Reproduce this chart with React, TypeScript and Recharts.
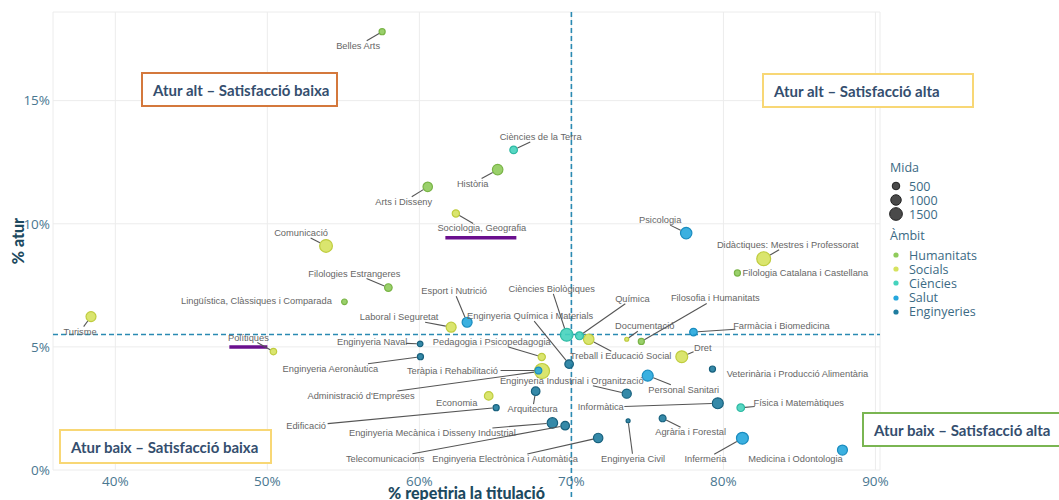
import React from 'react';
import {
  ScatterChart,
  Scatter,
  XAxis,
  YAxis,
  ZAxis,
  CartesianGrid,
  ReferenceLine,
  Legend
} from 'recharts';

// titulacions, ambit, % repetiria, % atur, mida (graduats)
const titulacions = [
  'Belles Arts', 'Ciències de la Terra', 'Història', 'Arts i Disseny', 'Sociologia, Geografia',
  'Psicologia', 'Comunicació', 'Didàctiques: Mestres i Professorat', 'Filologia Catalana i Castellana',
  'Filologies Estrangeres', 'Lingüística, Clàssiques i Comparada', 'Turisme', 'Polítiques',
  'Esport i Nutrició', 'Laboral i Seguretat', 'Ciències Biològiques', 'Química', 'Filosofia i Humanitats',
  'Enginyeria Química i Materials', 'Documentació', 'Farmàcia i Biomedicina', 'Enginyeria Naval',
  'Pedagogia i Psicopedagogia', 'Treball i Educació Social', 'Dret', 'Enginyeria Aeronàutica',
  'Teràpia i Rehabilitació', "Administració d'Empreses", 'Veterinària i Producció Alimentària',
  'Enginyeria Industrial i Organització', 'Personal Sanitari', 'Economia', 'Arquitectura', 'Informàtica',
  'Física i Matemàtiques', 'Edificació', 'Enginyeria Mecànica i Disseny Industrial', 'Agrària i Forestal',
  'Telecomunicacions', 'Enginyeria Electrònica i Automàtica', 'Enginyeria Civil', 'Infermeria',
  'Medicina i Odontologia'
];

const ambitOf = [
  'Humanitats', 'Ciències', 'Humanitats', 'Humanitats', 'Socials',
  'Salut', 'Socials', 'Socials', 'Humanitats',
  'Humanitats', 'Humanitats', 'Socials', 'Socials',
  'Salut', 'Socials', 'Ciències', 'Ciències', 'Humanitats',
  'Enginyeries', 'Socials', 'Salut', 'Enginyeries',
  'Socials', 'Socials', 'Socials', 'Enginyeries',
  'Salut', 'Socials', 'Enginyeries',
  'Enginyeries', 'Salut', 'Socials', 'Enginyeries', 'Enginyeries',
  'Ciències', 'Enginyeries', 'Enginyeries', 'Enginyeries',
  'Enginyeries', 'Enginyeries', 'Enginyeries', 'Salut',
  'Salut'
];

const satisfaccio = [
  57.55, 66.2, 65.15, 60.55, 62.4,
  77.55, 53.86, 82.65, 80.92,
  57.96, 55.07, 38.4, 50.4,
  63.14, 62.09, 69.69, 70.53, 74.6,
  69.85, 73.64, 78.03, 60.05,
  68.05, 71.14, 77.26, 60.07,
  67.83, 68.07, 79.28,
  73.64, 75.02, 64.56, 67.65, 79.63,
  81.14, 65.05, 68.75, 76.0,
  69.59, 71.76, 73.73, 81.25,
  87.83
];

const atur = [
  17.8, 13.0, 12.2, 11.5, 10.42,
  9.62, 9.1, 8.58, 8.0,
  7.41, 6.83, 6.23, 4.81,
  6.0, 5.8, 5.49, 5.45, 5.22,
  4.3, 5.31, 5.6, 5.12,
  4.59, 5.31, 4.6, 4.6,
  4.04, 4.02, 4.1,
  3.1, 3.83, 3.01, 3.2, 2.71,
  2.53, 2.53, 1.91, 2.1,
  1.8, 1.3, 2.0, 1.29,
  0.81
];

const mida = [
  300, 500, 1000, 800, 450,
  1200, 1500, 1800, 300,
  500, 250, 900, 350,
  900, 900, 1500, 550, 300,
  650, 100, 500, 250,
  450, 1000, 1300, 300,
  400, 2100, 300,
  750, 1100, 650, 650, 1100,
  500, 300, 1000, 400,
  650, 800, 100, 1300,
  900
];

// label offsets from the point in px (dx, dy) and whether a leader segment is drawn
const labelPos: [number, number, boolean][] = [
  [-24, 14, true], [27, -13, true], [-25, 14, true], [-24, 15, true], [26, 15, true],
  [-26, -13, true], [-25, -13, true], [24, -14, true], [68, 0, false],
  [-34, -14, true], [-88, -1, false], [-11, 15, true], [-25, -14, true],
  [-13, -31, true], [-52, -10, true], [-15, -46, true], [53, -37, true], [74, -43, true],
  [-39, -48, true], [18, -13, true], [88, -6, true], [-48, -2, true],
  [-50, -15, true], [32, 17, true], [21, -9, true], [-90, 12, true],
  [-86, 0, true], [-181, 25, true], [85, 5, false],
  [-55, -13, true], [36, 14, true], [-32, 7, false], [-3, 18, true], [-117, 4, true],
  [58, -5, true], [-190, 18, true], [-120, 10, true], [28, 14, true],
  [-180, 33, true], [-93, 21, true], [5, 38, true], [-37, 21, true],
  [-47, 9, false]
];

const ambits = ['Humanitats', 'Socials', 'Ciències', 'Salut', 'Enginyeries'];
const ambitFill: Record<string, string> = {
  Humanitats: '#8fcb5b',
  Socials: '#d6e25e',
  Ciències: '#45d3bd',
  Salut: '#26a7dd',
  Enginyeries: '#1f7c9f'
};
const ambitStroke: Record<string, string> = {
  Humanitats: '#79b446',
  Socials: '#bfcc3f',
  Ciències: '#2fb9a3',
  Salut: '#1a8cbf',
  Enginyeries: '#17607d'
};

const midaLegend = [500, 1000, 1500];
const xTicks = [40, 50, 60, 70, 80, 90];
const yTicks = [0, 5, 10, 15];

const rows = titulacions.map((name, idx) => ({
  name,
  idx,
  ambit: ambitOf[idx],
  x: satisfaccio[idx],
  y: atur[idx],
  n: mida[idx]
}));

const SIZE_DOMAIN: [number, number] = [0, 2200];
const SIZE_RANGE: [number, number] = [4.4, 184.8];
const radiusFor = (n: number) =>
  Math.sqrt((SIZE_RANGE[0] + (n / SIZE_DOMAIN[1]) * (SIZE_RANGE[1] - SIZE_RANGE[0])) / Math.PI);

const tickStyle = { fill: '#4a7790', fontSize: 13.5, fontFamily: 'Open Sans, sans-serif' };
const CHAR_W = 4.1;

const RepelLabel = (props: any) => {
  const { cx, cy, payload, size } = props;
  if (cx == null || cy == null) return null;
  const [dx, dy, seg] = labelPos[payload.idx];
  const lx = cx + dx;
  const ly = cy + dy;
  const hw = (payload.name.length * CHAR_W) / 2 + 1;
  const hh = 5;
  let line = null;
  if (seg) {
    const vx = cx - lx;
    const vy = cy - ly;
    const t = Math.min(vx ? hw / Math.abs(vx) : Infinity, vy ? hh / Math.abs(vy) : Infinity);
    const len = Math.hypot(vx, vy);
    const r = Math.sqrt((size || 30) / Math.PI) + 0.5;
    if (t < 1 && len > r) {
      line = (
        <line
          x1={lx + vx * t}
          y1={ly + vy * t}
          x2={cx - (vx / len) * r}
          y2={cy - (vy / len) * r}
          stroke="#555"
          strokeWidth={1.1}
        />
      );
    }
  }
  return (
    <g>
      {line}
      <text
        x={lx}
        y={ly}
        textAnchor="middle"
        dominantBaseline="central"
        fontSize={9.3}
        fontFamily="Liberation Sans, Arial, sans-serif"
        fill="#666"
      >
        {payload.name}
      </text>
    </g>
  );
};

const LegendBox = () => (
  <div style={{ fontFamily: 'Open Sans, sans-serif', fontSize: 12.5, color: '#3b6a84', lineHeight: '13px' }}>
    <div style={{ height: 16, lineHeight: '16px', paddingLeft: 6 }}>Mida</div>
    <div style={{ height: 3 }} />
    {midaLegend.map((n) => (
      <div key={n} style={{ display: 'flex', alignItems: 'center', height: 14 }}>
        <svg width={25} height={14}>
          <circle cx={12} cy={7} r={radiusFor(n)} fill="#4a4a4a" stroke="#222" strokeWidth={1} />
        </svg>
        <span>{n}</span>
      </div>
    ))}
    <div style={{ height: 16, lineHeight: '16px', marginTop: 7, paddingLeft: 6 }}>Àmbit</div>
    <div style={{ height: 4 }} />
    {ambits.map((a) => (
      <div key={a} style={{ display: 'flex', alignItems: 'center', height: 14.2 }}>
        <svg width={25} height={14}>
          <circle cx={12} cy={7} r={2.6} fill={ambitFill[a]} />
        </svg>
        <span>{a}</span>
      </div>
    ))}
  </div>
);

const boxText: React.CSSProperties = {
  position: 'absolute',
  boxSizing: 'border-box',
  background: '#fff',
  height: 35,
  display: 'flex',
  alignItems: 'center',
  paddingLeft: 10,
  fontFamily: 'Lato, sans-serif',
  fontWeight: 700,
  fontSize: 15,
  color: '#344e6e',
  whiteSpace: 'nowrap'
};

export default function App() {
  return (
    <div style={{ position: 'absolute', left: 0, top: 0, width: 1059, height: 500, background: '#fff', overflow: 'hidden' }}>
      <ScatterChart width={1059} height={500} margin={{ top: 12, right: 179, bottom: 0, left: 0 }}>
        <CartesianGrid stroke="#ececec" strokeWidth={1} />
        <XAxis
          type="number"
          dataKey="x"
          domain={[35.9, 90.3]}
          ticks={xTicks}
          allowDataOverflow
          tickFormatter={(v) => `${v}%`}
          axisLine={false}
          tickLine={false}
          tickSize={3}
          tickMargin={3}
          height={30}
          tick={tickStyle}
        />
        <YAxis
          type="number"
          dataKey="y"
          domain={[0, 18.6]}
          ticks={yTicks}
          allowDataOverflow
          tickFormatter={(v) => `${v}%`}
          axisLine={false}
          tickLine={false}
          tickSize={0}
          tickMargin={3}
          width={53}
          tick={tickStyle}
        />
        <ZAxis type="number" dataKey="n" domain={SIZE_DOMAIN} range={SIZE_RANGE} />
        <ReferenceLine y={5.5} stroke="#2a8ab2" strokeWidth={1.6} strokeDasharray="5 3" />
        <ReferenceLine
          segment={[{ x: 70, y: 18.6 }, { x: 70, y: -1.3 }]}
          ifOverflow="visible"
          stroke="#2a8ab2"
          strokeWidth={1.6}
          strokeDasharray="5 3"
        />
        <ReferenceLine
          segment={[{ x: 61.71, y: 9.43 }, { x: 66.38, y: 9.43 }]}
          stroke="#6a0f8e"
          strokeWidth={3.5}
        />
        <ReferenceLine
          segment={[{ x: 47.5, y: 5.0 }, { x: 50.0, y: 5.0 }]}
          stroke="#6a0f8e"
          strokeWidth={3.5}
        />
        {ambits.map((a) => (
          <Scatter
            key={a}
            name={a}
            data={rows.filter((r) => r.ambit === a)}
            fill={ambitFill[a]}
            fillOpacity={0.9}
            stroke={ambitStroke[a]}
            strokeWidth={1.2}
            isAnimationActive={false}
          />
        ))}
        <Scatter name="labels" data={rows} shape={RepelLabel} isAnimationActive={false} legendType="none" />
        <Legend
          layout="horizontal"
          verticalAlign="middle"
          align="center"
          content={<LegendBox />}
          wrapperStyle={{ left: 884, top: 160, width: 120 }}
        />
      </ScatterChart>

      <div style={{ position: 'absolute', left: 0, width: 933, top: 484, textAlign: 'center', fontFamily: 'Lato, sans-serif', fontWeight: 900, fontSize: 16, lineHeight: '18px', color: '#1d4a60' }}>
        % repetiria la titulació
      </div>
      <div style={{ position: 'absolute', left: 17, top: 241, transform: 'translate(-50%, -50%) rotate(-90deg)', fontFamily: 'Lato, sans-serif', fontWeight: 900, fontSize: 16, color: '#1d4a60', whiteSpace: 'nowrap' }}>
        % atur
      </div>

      <div style={{ ...boxText, left: 141, top: 72, width: 197, border: '2px solid #d4783c' }}>Atur alt – Satisfacció baixa</div>
      <div style={{ ...boxText, left: 762, top: 73, width: 212, border: '2px solid #f8d775' }}>Atur alt – Satisfacció alta</div>
      <div style={{ ...boxText, left: 59, top: 429, width: 213, border: '2px solid #f8d775' }}>Atur baix – Satisfacció baixa</div>
      <div style={{ ...boxText, left: 862, top: 412, width: 200, border: '2px solid #7ab552' }}>Atur baix – Satisfacció alta</div>
    </div>
  );
}
